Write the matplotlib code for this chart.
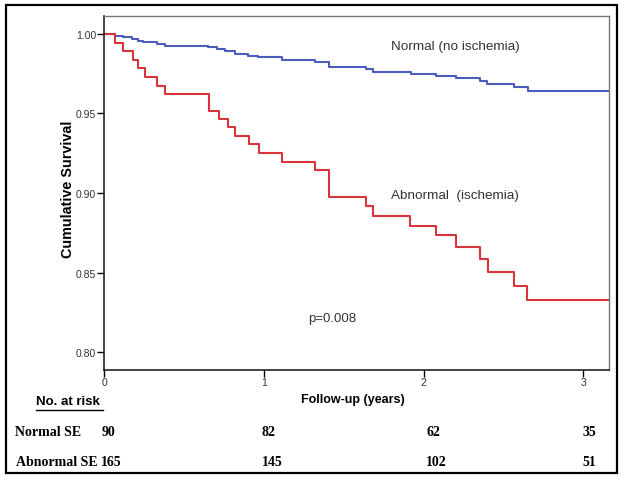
import matplotlib.pyplot as plt
from matplotlib.patches import Rectangle

# Kaplan-Meier steps (years, cumulative survival)
t_normal = [0, 0.069, 0.119, 0.175, 0.213, 0.244, 0.332, 0.382, 0.651, 0.708, 0.758,
            0.820, 0.902, 0.965, 1.115, 1.321, 1.409, 1.641, 1.684, 1.922, 2.079,
            2.204, 2.354, 2.398, 2.567, 2.655, 3.16]
s_normal = [1.0, 0.9989, 0.9979, 0.9969, 0.9958, 0.9948, 0.9937, 0.9927, 0.9917, 0.9906,
            0.9895, 0.9874, 0.9864, 0.9854, 0.9839, 0.9826, 0.9791, 0.9780, 0.9763,
            0.9749, 0.9736, 0.9722, 0.9707, 0.9686, 0.9669, 0.9644, 0.9644]

t_abn = [0, 0.069, 0.119, 0.182, 0.213, 0.257, 0.332, 0.382, 0.657, 0.720, 0.776,
         0.820, 0.908, 0.970, 1.115, 1.321, 1.409, 1.641, 1.684, 1.916, 2.079,
         2.204, 2.354, 2.405, 2.567, 2.649, 3.16]
s_abn = [1.0, 0.9945, 0.9893, 0.9837, 0.9786, 0.9730, 0.9674, 0.9623, 0.9517, 0.9466,
         0.9416, 0.9359, 0.9309, 0.9253, 0.9196, 0.9146, 0.8977, 0.8920, 0.8857,
         0.8795, 0.8738, 0.8663, 0.8588, 0.8506, 0.8418, 0.8330, 0.8330]

risk_years = [0, 1, 2, 3]
risk_normal = [90, 82, 62, 35]
risk_abn = [165, 145, 102, 51]

BLUE, RED = "#4a5cbd", "#d8343c"
SANS = "Liberation Sans"
SERIF = "Liberation Serif"

fig = plt.figure(figsize=(6.24, 4.81), dpi=100)
ax = fig.add_axes([104/624, 1-371/481, 505/624, 354/481])

ax.step(t_normal, s_normal, where="post", color=BLUE, lw=1.5)
ax.step(t_abn, s_abn, where="post", color=RED, lw=1.5)

ax.set_xlim(0, 3.16)
ax.set_ylim(0.7887, 1.0113)
ax.set_xticks(risk_years)
ax.set_yticks([0.80, 0.85, 0.90, 0.95, 1.00])
ax.set_yticklabels(["0.80", "0.85", "0.90", "0.95", "1.00"])
ax.tick_params(axis="y", direction="out", length=5, width=1, labelsize=7.5,
               labelcolor="#333333", pad=0.5)
ax.tick_params(axis="x", direction="out", length=5, width=1, labelsize=7.5,
               labelcolor="#333333", pad=0)
for lab in ax.get_xticklabels() + ax.get_yticklabels():
    lab.set_fontfamily(SANS)

for s in ("left", "bottom"):
    ax.spines[s].set_color("#222222"); ax.spines[s].set_linewidth(1.2)
for s in ("top", "right"):
    ax.spines[s].set_color("#777777"); ax.spines[s].set_linewidth(1.0)

ax.text(1.795, 0.9925, "Normal (no ischemia)", fontsize=9.7, family=SANS, color="#333333", va="center")
ax.text(1.795, 0.8985, "Abnormal  (ischemia)", fontsize=9.7, family=SANS, color="#333333", va="center")
ax.text(1.28, 0.8215, "p=0.008", fontsize=9.5, family=SANS, color="#333333", va="center")

fig.text(68/624, 1-189/481, "Cumulative Survival", rotation=90, fontsize=10.4,
         family=SANS, fontweight="bold", ha="center", va="center")
fig.text(353/624, 1-400/481, "Follow-up (years)", fontsize=9, family=SANS,
         fontweight="bold", ha="center", va="center")

# number at risk table
fig.text(36/624, 1-402/481, "No. at risk", fontsize=9.5, family=SANS,
         fontweight="bold", ha="left", va="center")
fig.add_artist(plt.Line2D([36/624, 103/624], [1-411/481, 1-411/481], color="black", lw=1))
fig.text(15/624, 1-432/481, "Normal SE", fontsize=10, family=SERIF,
         fontweight="bold", ha="left", va="center")
fig.text(16/624, 1-462/481, "Abnormal SE", fontsize=10, family=SERIF,
         fontweight="bold", ha="left", va="center")
row_x = [108, 269, 433, 589]
for x, a, b in zip(row_x, risk_normal, risk_abn):
    fig.text(x/624, 1-432/481, str(a), fontsize=10, family=SERIF,
             fontweight="bold", ha="center", va="center")
    fig.text((x + 3 if b > 99 else x)/624, 1-462/481, str(b), fontsize=10, family=SERIF,
             fontweight="bold", ha="center", va="center")

fig.add_artist(Rectangle((6/624, 1-474/481), 611/624, 468/481, transform=fig.transFigure,
                         fill=False, ec="black", lw=1.6))

fig.savefig("out.png", dpi=100)
